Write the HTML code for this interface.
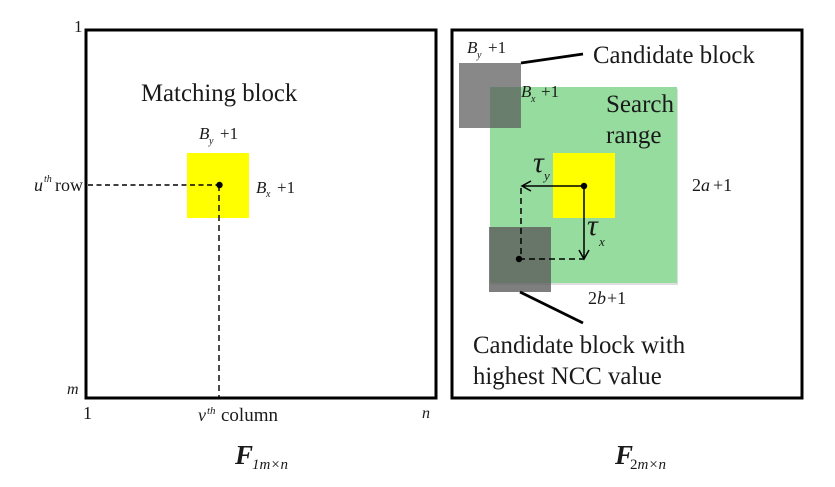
<!DOCTYPE html>
<html>
<head>
<meta charset="utf-8">
<style>
html,body{margin:0;padding:0;background:#fff}
svg{display:block}
text{font-family:"Liberation Serif",serif;fill:#1a1a1a}
.i{font-style:italic}
</style>
</head>
<body>
<svg width="835" height="487" viewBox="0 0 835 487" xmlns="http://www.w3.org/2000/svg">
<!-- frames -->
<rect x="86" y="30" width="350" height="368" fill="none" stroke="#000" stroke-width="3"/>
<rect x="452" y="30" width="350" height="368" fill="none" stroke="#000" stroke-width="3"/>

<!-- left panel -->
<rect x="187" y="153" width="62" height="65" fill="#ffff00"/>
<line x1="88" y1="185" x2="219" y2="185" stroke="#000" stroke-width="1.400" stroke-dasharray="5 3.500"/>
<line x1="219" y1="185" x2="219" y2="398" stroke="#000" stroke-width="1.400" stroke-dasharray="6 4"/>
<circle cx="219.500" cy="185" r="3.200" fill="#000"/>

<text x="74" y="32" font-size="17">1</text>
<text x="67" y="394" font-size="16" class="i">m</text>
<text x="83" y="419" font-size="18">1</text>
<text x="422" y="418" font-size="16" class="i">n</text>
<text x="141" y="101" font-size="24.800">Matching block</text>
<text x="199" y="139" font-size="17" class="i">B</text>
<text x="209" y="144" font-size="10" class="i">y</text>
<text x="220" y="139" font-size="17">+1</text>
<text x="256" y="193" font-size="17" class="i">B</text>
<text x="266" y="197" font-size="10" class="i">x</text>
<text x="277" y="193" font-size="17">+1</text>
<text x="34" y="191" font-size="18" class="i">u</text>
<text x="44" y="182" font-size="10" class="i">th</text>
<text x="55" y="191" font-size="18">row</text>
<text x="198" y="421" font-size="18" class="i">v</text>
<text x="207" y="414" font-size="11" class="i">th</text>
<text x="221" y="421" font-size="19">column</text>
<text x="235" y="464" font-size="27" font-weight="bold" class="i">F</text>
<text x="252" y="469" font-size="15" class="i">1m×n</text>

<!-- right panel -->
<rect x="491" y="89" width="187" height="196" fill="#c8c8c8" opacity="0.6"/>
<rect x="490" y="87" width="187" height="196" fill="#95dc9e"/>
<rect x="553" y="153" width="62" height="65" fill="#ffff00"/>
<rect x="459" y="63" width="62" height="65" fill="#5a5a5a" fill-opacity="0.72"/>
<rect x="489" y="227" width="62" height="65" fill="#5a5a5a" fill-opacity="0.78"/>

<line x1="521" y1="63" x2="583" y2="54" stroke="#000" stroke-width="2.800"/>
<line x1="520" y1="292" x2="583" y2="323" stroke="#000" stroke-width="2.800"/>

<line x1="584" y1="186" x2="522" y2="186" stroke="#000" stroke-width="1.500"/>
<polyline points="531,181 522,186 531,191" fill="none" stroke="#000" stroke-width="1.500"/>
<line x1="584" y1="186" x2="584" y2="259" stroke="#000" stroke-width="1.500"/>
<polyline points="579,250 584,259 589,250" fill="none" stroke="#000" stroke-width="1.500"/>
<line x1="521" y1="188" x2="521" y2="259" stroke="#000" stroke-width="1.500" stroke-dasharray="6 4"/>
<line x1="519" y1="259" x2="584" y2="259" stroke="#000" stroke-width="1.500" stroke-dasharray="6 4"/>
<circle cx="584" cy="186" r="3.200" fill="#000"/>
<circle cx="519" cy="259" r="3.200" fill="#000"/>

<text x="467" y="53" font-size="17" class="i">B</text>
<text x="477" y="58" font-size="10" class="i">y</text>
<text x="488" y="53" font-size="17">+1</text>
<text x="521" y="97" font-size="17" class="i">B</text>
<text x="531" y="102" font-size="10" class="i">x</text>
<text x="541" y="97" font-size="17">+1</text>
<text x="593" y="63" font-size="24.800">Candidate block</text>
<text x="606" y="112" font-size="25">Search</text>
<text x="606" y="143" font-size="25">range</text>
<text x="533" y="172" font-size="30" class="i">τ</text>
<text x="544" y="180" font-size="13" class="i">y</text>
<text x="587" y="235" font-size="30" class="i">τ</text>
<text x="599" y="246" font-size="13" class="i">x</text>
<text x="692" y="191" font-size="18">2<tspan class="i">a</tspan><tspan dx="3">+</tspan>1</text>
<text x="588" y="304" font-size="18">2<tspan class="i">b</tspan><tspan dx="1">+</tspan>1</text>
<text x="473" y="353" font-size="24.800">Candidate block with</text>
<text x="473" y="384" font-size="24.800">highest NCC value</text>
<text x="615" y="464" font-size="27" font-weight="bold" class="i">F</text>
<text x="630" y="469" font-size="15">2<tspan class="i">m×n</tspan></text>
</svg>
</body>
</html>
